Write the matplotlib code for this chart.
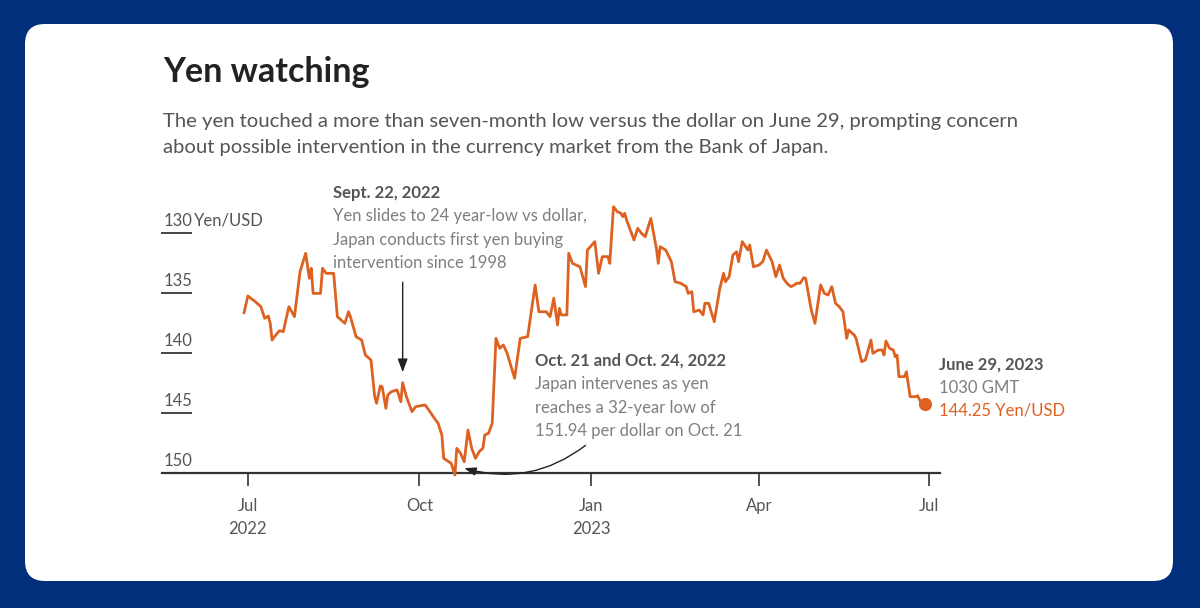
import matplotlib

matplotlib.use("Agg")

import matplotlib.dates as mdates
import matplotlib.pyplot as plt
import matplotlib.transforms as mtransforms
import pandas as pd
from matplotlib.patches import FancyBboxPatch

# USD/JPY
dates = [
    "2022-06-29", "2022-07-01", "2022-07-05", "2022-07-08", "2022-07-10", "2022-07-12",
    "2022-07-13", "2022-07-14", "2022-07-16", "2022-07-18", "2022-07-20", "2022-07-23",
    "2022-07-26", "2022-07-29", "2022-08-01", "2022-08-03", "2022-08-04", "2022-08-05",
    "2022-08-09", "2022-08-10", "2022-08-12", "2022-08-16", "2022-08-18", "2022-08-22",
    "2022-08-24", "2022-08-25", "2022-08-28", "2022-08-31", "2022-09-02", "2022-09-05",
    "2022-09-07", "2022-09-08", "2022-09-10", "2022-09-11", "2022-09-13", "2022-09-14",
    "2022-09-16", "2022-09-19", "2022-09-21", "2022-09-22", "2022-09-24", "2022-09-27",
    "2022-09-29", "2022-10-04", "2022-10-06", "2022-10-09", "2022-10-11", "2022-10-13",
    "2022-10-14", "2022-10-18", "2022-10-20", "2022-10-21", "2022-10-23", "2022-10-25",
    "2022-10-27", "2022-10-29", "2022-10-31", "2022-11-02", "2022-11-04", "2022-11-05",
    "2022-11-07", "2022-11-09", "2022-11-11", "2022-11-13", "2022-11-15", "2022-11-17",
    "2022-11-21", "2022-11-24", "2022-11-28", "2022-12-02", "2022-12-04", "2022-12-08",
    "2022-12-10", "2022-12-12", "2022-12-14", "2022-12-15", "2022-12-16", "2022-12-19",
    "2022-12-20", "2022-12-22", "2022-12-26", "2022-12-29", "2022-12-30", "2023-01-03",
    "2023-01-05", "2023-01-07", "2023-01-10", "2023-01-11", "2023-01-13", "2023-01-15",
    "2023-01-17", "2023-01-18", "2023-01-19", "2023-01-20", "2023-01-22", "2023-01-24",
    "2023-01-26", "2023-01-28", "2023-01-30", "2023-02-02", "2023-02-05", "2023-02-06",
    "2023-02-07", "2023-02-10", "2023-02-13", "2023-02-15", "2023-02-18", "2023-02-21",
    "2023-02-22", "2023-02-24", "2023-02-25", "2023-02-28", "2023-03-02", "2023-03-03",
    "2023-03-05", "2023-03-08", "2023-03-11", "2023-03-13", "2023-03-14", "2023-03-16",
    "2023-03-18", "2023-03-20", "2023-03-21", "2023-03-23", "2023-03-26", "2023-03-27",
    "2023-03-29", "2023-04-01", "2023-04-03", "2023-04-05", "2023-04-08", "2023-04-10",
    "2023-04-12", "2023-04-14", "2023-04-16", "2023-04-18", "2023-04-20", "2023-04-21",
    "2023-04-23", "2023-04-25", "2023-04-26", "2023-04-29", "2023-05-01", "2023-05-04",
    "2023-05-06", "2023-05-08", "2023-05-10", "2023-05-12", "2023-05-14", "2023-05-16",
    "2023-05-18", "2023-05-19", "2023-05-22", "2023-05-23", "2023-05-26", "2023-05-28",
    "2023-05-31", "2023-06-01", "2023-06-04", "2023-06-06", "2023-06-07", "2023-06-08",
    "2023-06-10", "2023-06-12", "2023-06-13", "2023-06-14", "2023-06-15", "2023-06-18",
    "2023-06-19", "2023-06-21", "2023-06-24", "2023-06-25", "2023-06-27", "2023-06-29",
]
usd_jpy = [
    136.64, 135.25, 135.72, 136.14, 137.11, 136.92,
    137.53, 138.92, 138.50, 138.14, 138.22, 136.14,
    136.97, 133.22, 131.69, 133.78, 132.94, 135.03,
    135.03, 132.94, 133.36, 133.36, 136.97, 137.53,
    136.56, 136.97, 138.64, 138.92, 140.17, 140.58,
    143.64, 144.19, 142.75, 142.81, 144.61, 143.50,
    143.22, 143.08, 144.06, 142.47, 143.64, 144.89,
    144.47, 144.33, 144.75, 145.44, 145.86, 146.83,
    148.78, 149.19, 150.17, 147.94, 148.36, 149.06,
    146.42, 147.94, 148.78, 148.22, 147.94, 146.83,
    146.69, 145.86, 138.78, 139.61, 139.33, 140.03,
    142.11, 138.78, 138.64, 134.33, 136.56, 136.56,
    136.97, 135.44, 137.67, 136.28, 136.83, 136.83,
    131.69, 132.53, 132.81, 134.47, 131.42, 130.72,
    133.36, 131.97, 131.97, 132.53, 127.81, 128.22,
    128.36, 128.64, 128.36, 128.92, 129.75, 130.58,
    129.61, 130.03, 130.31, 128.78, 131.28, 132.53,
    131.14, 131.42, 132.39, 134.06, 134.19, 134.47,
    135.03, 134.89, 136.56, 136.42, 136.83, 135.86,
    135.86, 137.39, 134.61, 133.36, 134.06, 133.64,
    131.83, 131.56, 132.39, 130.72, 131.42, 131.00,
    132.81, 132.67, 132.39, 131.42, 132.39, 133.64,
    132.67, 133.78, 134.19, 134.47, 134.33, 134.19,
    134.19, 133.72, 133.78, 136.42, 137.53, 134.33,
    135.03, 135.17, 134.47, 135.86, 136.14, 136.56,
    138.78, 138.08, 138.50, 138.78, 140.72, 140.58,
    138.92, 140.03, 139.75, 139.75, 140.17, 139.00,
    139.61, 139.75, 140.31, 140.17, 141.97, 141.97,
    141.56, 143.64, 143.64, 143.56, 144.19, 144.25,
]
y_ticks = [130, 135, 140, 145, 150]
x_tick_dates = ["2022-07-01", "2022-10-01", "2023-01-01", "2023-04-01", "2023-07-01"]
x_tick_labels = ["Jul\n2022", "Oct", "Jan\n2023", "Apr", "Jul"]

NAVY = "#012f7b"
ORANGE = "#dd6120"
DARK = "#222222"
MID = "#555555"
LIGHT = "#7f7f7f"

W, H = 1200, 608

plt.rcParams["font.family"] = ["Lato", "DejaVu Sans"]

fig = plt.figure(figsize=(W / 100, H / 100), dpi=100)
fig.patch.set_facecolor(NAVY)

# pixel-space background layer for the rounded white card
bg = fig.add_axes([0, 0, 1, 1])
bg.set_xlim(0, W)
bg.set_ylim(H, 0)
bg.axis("off")
bg.add_patch(
    FancyBboxPatch(
        (25, 24), 1148, 557,
        boxstyle="round,pad=0,rounding_size=20",
        facecolor="white", edgecolor="none",
    )
)


def px(x, y):
    return x / W, 1 - y / H


fig.text(*px(163, 72), "Yen watching", fontsize=24.5, fontweight="bold",
         color=DARK, va="center", ha="left")
fig.text(*px(163, 121), "The yen touched a more than seven-month low versus the dollar on June 29, prompting concern",
         fontsize=14.6, color=MID, va="center", ha="left")
fig.text(*px(163, 147), "about possible intervention in the currency market from the Bank of Japan.",
         fontsize=14.6, color=MID, va="center", ha="left")

# chart area: 130 at y=233px, 150 at y=473px, x from 162px to 940px
ax = fig.add_axes([162 / W, 1 - 473 / H, (940 - 162) / W, (473 - 233) / H])
ax.patch.set_alpha(0)

x = pd.to_datetime(dates)
ax.plot(x, usd_jpy, color=ORANGE, linewidth=2.0, solid_joinstyle="round",
        zorder=3, clip_on=False)
ax.scatter(x[-1:], usd_jpy[-1:], s=90, color=ORANGE, zorder=4, linewidths=0,
           clip_on=False)

ax.set_ylim(150, 130)
ax.set_xlim(pd.Timestamp("2022-05-16"), pd.Timestamp("2023-07-07"))

for side in ("top", "right", "left"):
    ax.spines[side].set_visible(False)
ax.spines["bottom"].set_color("#333333")
ax.spines["bottom"].set_linewidth(1.6)
ax.spines["bottom"].set_zorder(2)
ax.set_yticks([])

ax.set_xticks(pd.to_datetime(x_tick_dates))
ax.set_xticklabels(x_tick_labels, fontsize=12, color=MID, linespacing=1.55)
ax.tick_params(axis="x", length=9, width=1.2, color="#333333", pad=9)

blend = mtransforms.blended_transform_factory(ax.transAxes, ax.transData)
for v in y_ticks:
    ax.plot([0, 0.037], [v, v], transform=blend, color="#444444",
            linewidth=1.4, clip_on=False)
    ax.text(0.002, v - 0.35, str(v), transform=blend, fontsize=12,
            color=MID, ha="left", va="bottom")
ax.text(0.041, 129.65, "Yen/USD", transform=blend, fontsize=12,
        color=MID, ha="left", va="bottom")

# Sept. 22 note
fig.text(*px(333, 193), "Sept. 22, 2022", fontsize=12, fontweight="bold",
         color=MID, va="center", ha="left")
for i, line in enumerate([
    "Yen slides to 24 year-low vs dollar,",
    "Japan conducts first yen buying",
    "intervention since 1998",
]):
    fig.text(*px(333, 216 + 23.5 * i), line, fontsize=12, color=LIGHT,
             va="center", ha="left")
ax.annotate(
    "", xy=(pd.Timestamp("2022-09-22"), 141.6),
    xytext=(pd.Timestamp("2022-09-22"), 134.1),
    arrowprops=dict(arrowstyle="-|>,head_length=0.8,head_width=0.3",
                    color="#222222", linewidth=1.0, shrinkA=0, shrinkB=0),
    annotation_clip=False,
)

# Oct. 21 / 24 note
fig.text(*px(535, 361), "Oct. 21 and Oct. 24, 2022", fontsize=12, fontweight="bold",
         color=MID, va="center", ha="left")
for i, line in enumerate([
    "Japan intervenes as yen",
    "reaches a 32-year low of",
    "151.94 per dollar on Oct. 21",
]):
    fig.text(*px(535, 384 + 23.5 * i), line, fontsize=12, color=LIGHT,
             va="center", ha="left")
ax.annotate(
    "", xy=(pd.Timestamp("2022-10-25"), 149.6),
    xytext=(pd.Timestamp("2022-12-29"), 147.7),
    arrowprops=dict(arrowstyle="-|>,head_length=0.7,head_width=0.25",
                    color="#222222", linewidth=1.0, shrinkA=0, shrinkB=0,
                    connectionstyle="arc3,rad=-0.25"),
    annotation_clip=False,
)

# last value note
fig.text(*px(939, 365), "June 29, 2023", fontsize=12, fontweight="bold",
         color=MID, va="center", ha="left")
fig.text(*px(939, 388), "1030 GMT", fontsize=12, color=LIGHT,
         va="center", ha="left")
fig.text(*px(939, 411), "144.25 Yen/USD", fontsize=12, color=ORANGE,
         va="center", ha="left")

fig.savefig("out.png", dpi=100, facecolor=NAVY)
